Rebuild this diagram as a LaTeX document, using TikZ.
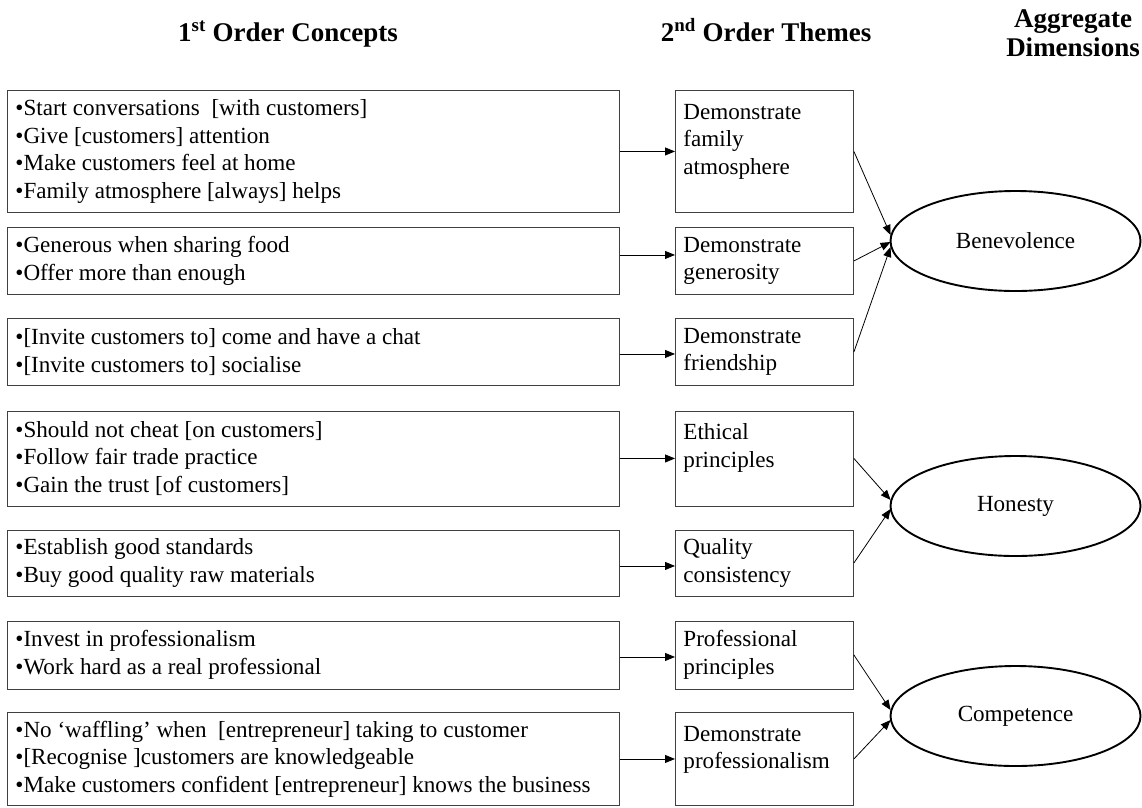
\documentclass[tikz,border=0pt]{standalone}
\usepackage{fontspec}
\setmainfont{Liberation Serif}
\usetikzlibrary{arrows.meta,shapes.geometric,calc}
\newcommand{\cellbox}[4]{\begin{minipage}[c][#2][#3]{#1}\raggedright\leftskip=8pt\fontsize{23.1}{27.5}\selectfont #4\end{minipage}}
\newcommand{\topcell}[3]{\cellbox{#1}{#2}{t}{\vspace*{9.5pt}\strut #3}}
\tikzset{
  cbox/.style={draw=black!75, line width=0.9pt, inner sep=0pt, anchor=north west, rectangle},
  dim/.style={draw=black, line width=1.9pt, ellipse, minimum width=250pt, minimum height=100pt, inner sep=0pt, font=\fontsize{23.1}{27}\selectfont},
  hdr/.style={font=\fontsize{27}{29}\selectfont\bfseries, align=center, inner sep=0pt},
  arr/.style={line width=0.8pt, -{Triangle[length=10pt,width=8pt]}}
}
\begin{document}
\begin{tikzpicture}[x=1pt,y=-1pt]
\useasboundingbox (0,0) rectangle (1142,807);
% headers
\node[hdr, anchor=base] (h1) at (288,41) {1\textsuperscript{st} Order Concepts};
\node[hdr, anchor=base] (h2) at (766,41) {2\textsuperscript{nd} Order Themes};
\node[hdr] (h3) at (1073,33) {Aggregate\\Dimensions};
% first-order boxes
\node[cbox] (A) at (7,90) {\cellbox{612pt}{122pt}{c}{•Start conversations~ [with customers]\\•Give [customers] attention\\•Make customers feel at home\\•Family atmosphere [always] helps}};
\node[cbox] (B) at (7,227) {\cellbox{612pt}{67pt}{c}{•Generous when sharing food\\•Offer more than enough}};
\node[cbox] (C) at (7,318) {\cellbox{612pt}{67pt}{c}{•[Invite customers to] come and have a chat\\•[Invite customers to] socialise}};
\node[cbox] (D) at (7,410.5) {\cellbox{612pt}{95pt}{c}{•Should not cheat [on customers]\\•Follow fair trade practice\\•Gain the trust [of customers]}};
\node[cbox] (E) at (7,529.5) {\cellbox{612pt}{66pt}{c}{•Establish good standards\\•Buy good quality raw materials}};
\node[cbox] (F) at (7,620.5) {\cellbox{612pt}{68pt}{c}{•Invest in professionalism\\•Work hard as a real professional}};
\node[cbox] (G) at (7,712) {\cellbox{612pt}{93pt}{c}{•No ‘waffling’ when~ [entrepreneur] taking to customer\\•[Recognise ]customers are knowledgeable\\•Make customers confident [entrepreneur] knows the business}};
% second-order boxes
\node[cbox] (M1) at (675,90) {\topcell{178pt}{122pt}{Demonstrate\\family\\atmosphere}};
\node[cbox] (M2) at (675,227) {\cellbox{178pt}{67pt}{c}{Demonstrate\\generosity}};
\node[cbox] (M3) at (675,318) {\cellbox{178pt}{67pt}{c}{Demonstrate\\friendship}};
\node[cbox] (M4) at (675,410.5) {\topcell{178pt}{95pt}{Ethical\\principles}};
\node[cbox] (M5) at (675,529.5) {\cellbox{178pt}{66pt}{c}{Quality\\consistency}};
\node[cbox] (M6) at (675,620.5) {\cellbox{178pt}{68pt}{c}{Professional\\principles}};
\node[cbox] (M7) at (675,712) {\topcell{178pt}{93pt}{Demonstrate\\professionalism}};
% aggregate dimensions
\node[dim] (ben) at (1015.5,241) {Benevolence};
\node[dim] (hon) at (1015.5,506) {Honesty};
\node[dim] (com) at (1015.5,716) {Competence};
% arrows first -> second
\draw[arr] (A.east) -- (M1.west);
\draw[arr] ([yshift=6pt]B.east) -- ([yshift=6pt]M2.west);
\draw[arr] ([yshift=-2pt]C.east) -- ([yshift=-2pt]M3.west);
\draw[arr] (D.east) -- (M4.west);
\draw[arr] ([yshift=-3pt]E.east) -- ([yshift=-3pt]M5.west);
\draw[arr] ([yshift=-2pt]F.east) -- ([yshift=-2pt]M6.west);
\draw[arr] (G.east) -- (M7.west);
% arrows second -> aggregate
\draw[arr] (M1.east) -- ($(ben.west)+(1,-6)$);
\draw[arr] (M2.east) -- ($(ben.west)+(1,1)$);
\draw[arr] (M3.east) -- ($(ben.west)+(1,6)$);
\draw[arr] (M4.east) -- ($(hon.west)+(1,-6)$);
\draw[arr] (M5.east) -- ($(hon.west)+(1,3)$);
\draw[arr] (M6.east) -- ($(com.west)+(1,-6)$);
\draw[arr] (M7.east) -- ($(com.west)+(1,4)$);
\end{tikzpicture}
\end{document}
